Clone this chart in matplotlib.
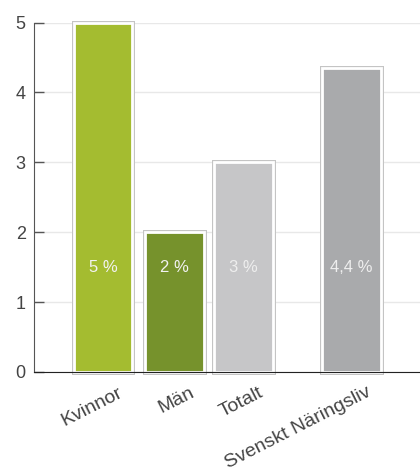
import matplotlib
matplotlib.use("Agg")
import matplotlib.pyplot as plt
import matplotlib.transforms as mtransforms

plt.rcParams['font.family'] = ['Liberation Sans', 'DejaVu Sans']

categories = ["Kvinnor", "Män", "Totalt", "Svenskt Näringsliv"]
values = [5.0, 2.0, 3.0, 4.35]
value_labels = ["5 %", "2 %", "3 %", "4,4 %"]
positions = [0, 1.19, 2.34, 4.14]
colors = ["#a4bc30", "#76922c", "#c6c6c8", "#a9aaac"]
label_colors = ["#f2f2f2", "#f2f2f2", "#eeeeee", "#eeeeee"]

fig = plt.figure(figsize=(4.2, 4.75), dpi=100)
ax = fig.add_axes([34 / 420, 1 - 372 / 475, 386 / 420, 349 / 475 + 0.001])

# outer grey frame, then white gap, then fill
ax.bar(positions, values, width=0.98, color="white", edgecolor="#c4c4c4",
       linewidth=3.6, zorder=2, clip_on=False)
ax.bar(positions, values, width=0.98, color=colors, edgecolor="white",
       linewidth=2.0, zorder=3, clip_on=False)

for x, lab, c in zip(positions, value_labels, label_colors):
    ax.text(x, 1.5, lab, ha="center", va="center", color=c, fontsize=12,
            zorder=4)

ax.set_xlim(-1.15, 5.28)
ax.set_ylim(0, 5)
ax.set_yticks([0, 1, 2, 3, 4, 5])
ax.grid(axis="y", color="#e8e8e8", linewidth=1, zorder=0)
ax.set_axisbelow(True)

# category labels drawn as text so they can sit right of the bar centre
ax.set_xticks(positions)
ax.set_xticklabels([])
ax.tick_params(axis="x", length=0)
offset = mtransforms.ScaledTranslation(15 / 100, -12 / 100, fig.dpi_scale_trans)
for x, cat in zip(positions, categories):
    ax.text(x, 0, cat, transform=ax.transData + offset, rotation=27,
            ha="right", va="top", rotation_mode="anchor", fontsize=14,
            color="#444444", clip_on=False)

ax.tick_params(axis="y", direction="in", length=7, width=1, color="#555555",
               labelsize=13, labelcolor="#444444", pad=6)

for s in ["top", "right"]:
    ax.spines[s].set_visible(False)
ax.spines["left"].set_color("#555555")
ax.spines["bottom"].set_color("#222222")
ax.spines["bottom"].set_zorder(5)

fig.savefig("out.png", dpi=100)
